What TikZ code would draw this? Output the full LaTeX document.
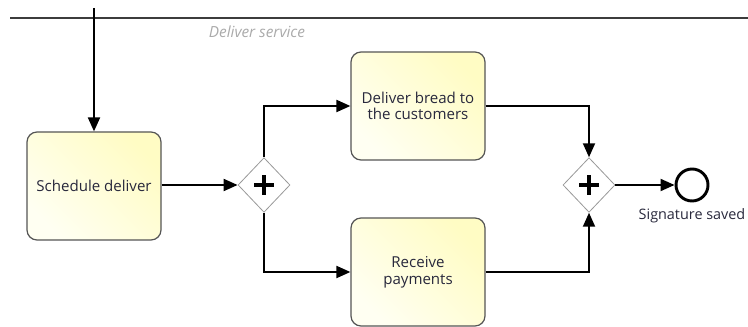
\documentclass[tikz,border=0pt]{standalone}
\usepackage{fontspec}
\setmainfont{Open Sans}
\usetikzlibrary{arrows.meta,shapes.geometric,positioning}
\definecolor{taskA}{RGB}{255,255,242}
\definecolor{taskB}{RGB}{255,252,196}
\definecolor{edgeGray}{RGB}{85,85,85}
\definecolor{laneGray}{RGB}{60,60,60}
\definecolor{labelGray}{RGB}{170,170,170}
\definecolor{textInk}{RGB}{40,40,60}
\tikzset{
  x=0.75pt, y=-0.75pt,
  task/.style={draw=edgeGray, line width=0.9pt, rounded corners=7.5pt,
    minimum width=100.5pt, minimum height=81pt, align=center,
    left color=taskA, right color=taskB, shading angle=135,
    text=textInk, font=\fontsize{11.3}{12.5}\selectfont, inner sep=2pt},
  gateway/.style={diamond, draw=gray!80, line width=0.6pt, fill=white,
    minimum width=39pt, minimum height=41pt, inner sep=0pt},
  flow/.style={draw=black, line width=1.5pt,
    -{Triangle[length=10.5pt,width=9pt]}},
  endevent/.style={circle, draw=black, line width=2.2pt, fill=white,
    minimum size=24pt, inner sep=0pt},
}
\newcommand{\plussign}[1]{%
  \draw[line width=2.4pt] ([xshift=-7.5pt]#1.center) -- ([xshift=7.5pt]#1.center);
  \draw[line width=2.4pt] ([yshift=-7.5pt]#1.center) -- ([yshift=7.5pt]#1.center);}
\begin{document}
\begin{tikzpicture}
\useasboundingbox (0,0) rectangle (748,327);
% lane separator and its label
\coordinate (laneL) at (10,18);
\coordinate (laneR) at (748,18);
\draw[laneGray, line width=2pt] (laneL) -- (laneR);
\node[font=\itshape\fontsize{11.5}{13}\selectfont, text=labelGray] (lanelabel) at (257,32) {Deliver service};
% activities
\node[task] (sched) at (94,186) {Schedule deliver};
\node[task] (bread) at (418,106) {Deliver bread to\\the customers};
\node[task] (pay) at (418,272) {Receive\\payments};
% gateways
\node[gateway] (split) at (264,185) {};
\plussign{split}
\node[gateway] (join) at (589,185) {};
\plussign{join}
% end event
\node[endevent] (end) at (692,185) {};
\node[font=\fontsize{10.8}{12}\selectfont, text=textInk, below=1pt of end] (endlabel) {Signature saved};
% sequence flows
\coordinate (incoming) at (94,8);
\draw[flow] (incoming) -- (sched.north);
\draw[flow] (sched.east |- split.west) -- (split.west);
\draw[flow] (split.north) |- (bread.west);
\draw[flow] (split.south) |- (pay.west);
\draw[flow] (bread.east) -| (join.north);
\draw[flow] (pay.east) -| (join.south);
\draw[flow] (join.east) -- (end.west);
\end{tikzpicture}
\end{document}
